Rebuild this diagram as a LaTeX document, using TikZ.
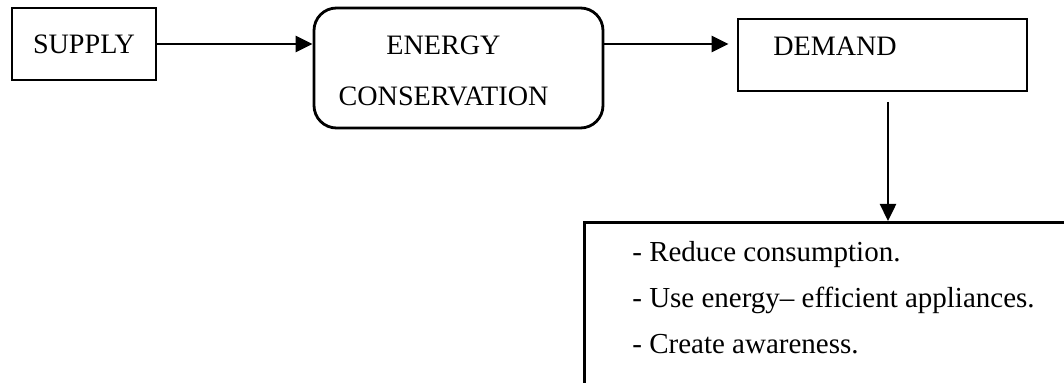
\documentclass[tikz,border=0pt]{standalone}
\usepackage{fontspec}
\setmainfont{Liberation Serif}
\usetikzlibrary{arrows.meta}
\tikzset{
  blockbox/.style={draw, line width=1.6pt, inner sep=0pt},
  roundbox/.style={blockbox, rounded corners=0.45cm},
  capsfont/.style={font=\fontsize{16}{29}\selectfont},
  itemfont/.style={font=\fontsize{16.5}{20}\selectfont, inner sep=0pt},
  flow/.style={line width=1.4pt, -{Triangle[length=0.34cm, width=0.32cm]}}
}
\begin{document}
\begin{tikzpicture}
      \useasboundingbox (0,0) rectangle (21.28,-7.66);
      \clip (0,0) rectangle (21.28,-7.66);
      % boxes
      \node[blockbox, minimum width=2.88cm, minimum height=1.44cm, capsfont] (supply) at (1.68,-0.88) {SUPPLY};
      \node[roundbox, minimum width=5.78cm, minimum height=2.4cm] (cons) at (9.17,-1.36) {};
      \node[capsfont, align=center] (consText) at (8.87,-1.42) {ENERGY\\CONSERVATION};
      \node[blockbox, minimum width=5.78cm, minimum height=1.44cm] (demand) at (17.65,-1.10) {};
      \node[capsfont, anchor=west, inner sep=0pt] (demandText) at (15.46,-0.93) {DEMAND};
      \node[blockbox, anchor=north west, minimum width=10cm, minimum height=3.8cm] (list) at (11.66,-4.42) {};
      % list items
      \node[itemfont, anchor=base west] (itemA) at (12.64,-5.24) {- Reduce consumption.};
      \node[itemfont, anchor=base west] (itemB) at (12.64,-6.16) {- Use energy-- efficient appliances.};
      \node[itemfont, anchor=base west] (itemC) at (12.64,-7.08) {- Create awareness.};
      % arrows
      \draw[flow] (supply.east) -- (supply.east -| cons.west);
      \draw[flow, shorten >=0.16cm] (cons.east |- supply.east) -- (demand.west |- supply.east);
      \coordinate (down) at (17.76,-2.04);
      \draw[flow] (down) -- (down |- list.north);
    \end{tikzpicture}
\end{document}
